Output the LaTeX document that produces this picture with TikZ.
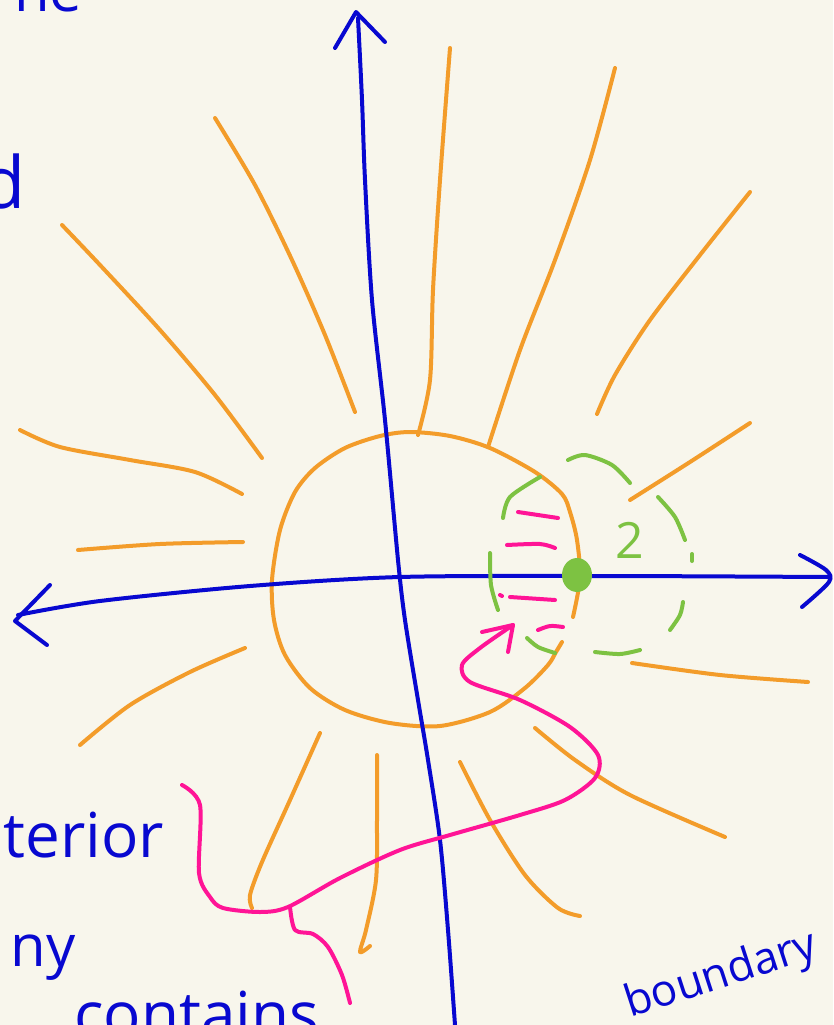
\documentclass[tikz,border=0pt]{standalone}
\usepackage{fontspec}
\setmainfont{Open Sans}
\definecolor{bg}{RGB}{248,246,236}
\definecolor{inkblue}{RGB}{8,8,208}
\definecolor{orng}{RGB}{243,156,42}
\definecolor{grn}{RGB}{125,194,66}
\definecolor{pnk}{RGB}{255,20,150}
\begin{document}
\begin{tikzpicture}[x=1pt,y=-1pt,
  ink/.style={line width=4pt,line cap=round,line join=round},
  ax/.style={ink,draw=inkblue},
  ray/.style={ink,draw=orng},
  gd/.style={ink,draw=grn},
  pk/.style={ink,draw=pnk},
  word/.style={text=inkblue,inner sep=0pt,anchor=base west}]
\path[use as bounding box,fill=bg] (0,0) rectangle (833,1025);
% orange rays
\draw[ray] plot[smooth] coordinates {(215,118) (255,185) (292,260) (325,335) (355,412)};
\draw[ray] plot[smooth] coordinates {(450,48) (440,180) (433,290) (430,380) (418,435)};
\draw[ray] plot[smooth] coordinates {(615,68) (590,160) (555,260) (520,350) (488,447)};
\draw[ray] plot[smooth] coordinates {(750,192) (700,255) (650,320) (615,375) (597,414)};
\draw[ray] plot[smooth] coordinates {(750,423) (690,462) (630,500)};
\draw[ray] plot[smooth] coordinates {(62,225) (100,265) (160,330) (215,395) (262,458)};
\draw[ray] plot[smooth] coordinates {(20,430) (60,447) (130,460) (195,472) (242,494)};
\draw[ray] plot[smooth] coordinates {(78,550) (160,544) (243,542)};
\draw[ray] plot[smooth] coordinates {(245,648) (190,672) (130,705) (80,745)};
\draw[ray] plot[smooth] coordinates {(320,733) (290,800) (262,862) (250,895) (252,908)};
\draw[ray] plot[smooth] coordinates {(377,755) (377,820) (376,880) (366,930) (360,952) (370,946)};
\draw[ray] plot[smooth] coordinates {(460,762) (490,820) (525,875) (558,908) (580,916)};
\draw[ray] plot[smooth] coordinates {(535,728) (575,760) (630,795) (725,837)};
\draw[ray] plot[smooth] coordinates {(632,663) (720,675) (808,682)};
% orange boundary circle
\draw[ray] plot[smooth] coordinates {(573,617) (580,578) (577,540) (570,512) (562,494) (535,472) (490,448) (450,436) (410,432) (380,436) (345,448) (315,468) (295,492) (280,530) (272,580) (274,620) (285,655) (310,688) (345,710) (390,723) (440,726) (490,712) (525,688) (548,665) (556,652) (562,642)};
% axes
\draw[ax] plot[smooth] coordinates {(455,1025) (448,930) (440,840) (428,760) (418,700) (405,620) (398,560) (385,420) (372,300) (365,180) (362,100) (358,18)};
\draw[ax] (335,48) -- (356,12) -- (385,42);
\draw[ax] plot[smooth] coordinates {(18,615) (100,601) (250,586) (400,577) (600,576) (828,577)};
\draw[ax] (50,585) -- (15,621) -- (47,645);
\draw[ax] plot[smooth] coordinates {(800,555) (826,570) (829,582) (802,607)};
% green dashed neighbourhood
\draw[gd] plot[smooth] coordinates {(503,518) (510,497) (540,477)};
\draw[gd] plot[smooth] coordinates {(568,460) (585,455) (612,465) (630,483)};
\draw[gd] plot[smooth] coordinates {(658,497) (675,517) (685,540)};
\draw[gd] (692,554) -- (692,561);
\draw[gd] plot[smooth] coordinates {(683,602) (680,615) (670,630)};
\draw[gd] plot[smooth] coordinates {(595,652) (620,654) (640,650)};
\draw[gd] plot[smooth] coordinates {(527,638) (538,647) (555,653)};
\draw[gd] plot[smooth] coordinates {(490,553) (491,585) (498,610)};
\fill[grn] (577,575) ellipse [x radius=15,y radius=17];
\node[text=grn,inner sep=0pt,font=\fontsize{50}{52}\selectfont] (two) at (630,540) {2};
% pink marks
\draw[pk] (518,512) -- (558,518);
\draw[pk] plot[smooth] coordinates {(507,545) (540,544) (555,548)};
\draw[pk] (500,595) -- (502,596);
\draw[pk] (510,597) -- (555,600);
\draw[pk] plot[smooth] coordinates {(538,630) (550,626) (563,627)};
% pink arrow and pointer lines
\draw[pk] (482,632) -- (513,625) -- (508,652);
\draw[pk] plot[smooth] coordinates {(513,625) (480,648) (462,665) (470,682) (520,700) (570,727) (598,755) (595,778) (565,800) (520,815) (450,835) (400,850) (340,878) (288,907) (260,912) (223,908) (210,897) (199,873) (200,805) (182,785)};
\draw[pk] plot[smooth] coordinates {(290,907) (295,930) (313,934) (328,947) (342,975) (350,1003)};
% words
\node[word,font=\fontsize{58}{60}\selectfont] (wne) at (14,12) {ne};
\node[word,font=\fontsize{72}{74}\selectfont,anchor=base east] (wd) at (26,208) {d};
\node[word,font=\fontsize{62}{64}\selectfont,anchor=base east] (wterior) at (164,857) {terior};
\node[word,font=\fontsize{58}{60}\selectfont,anchor=base east] (wny) at (76,966) {ny};
\node[word,font=\fontsize{62}{64}\selectfont] (wcontains) at (74,1036) {contains};
\node[word,font=\fontsize{44}{46}\selectfont,rotate=18] (wboundary) at (630,1018) {boundary};
\end{tikzpicture}
\end{document}
